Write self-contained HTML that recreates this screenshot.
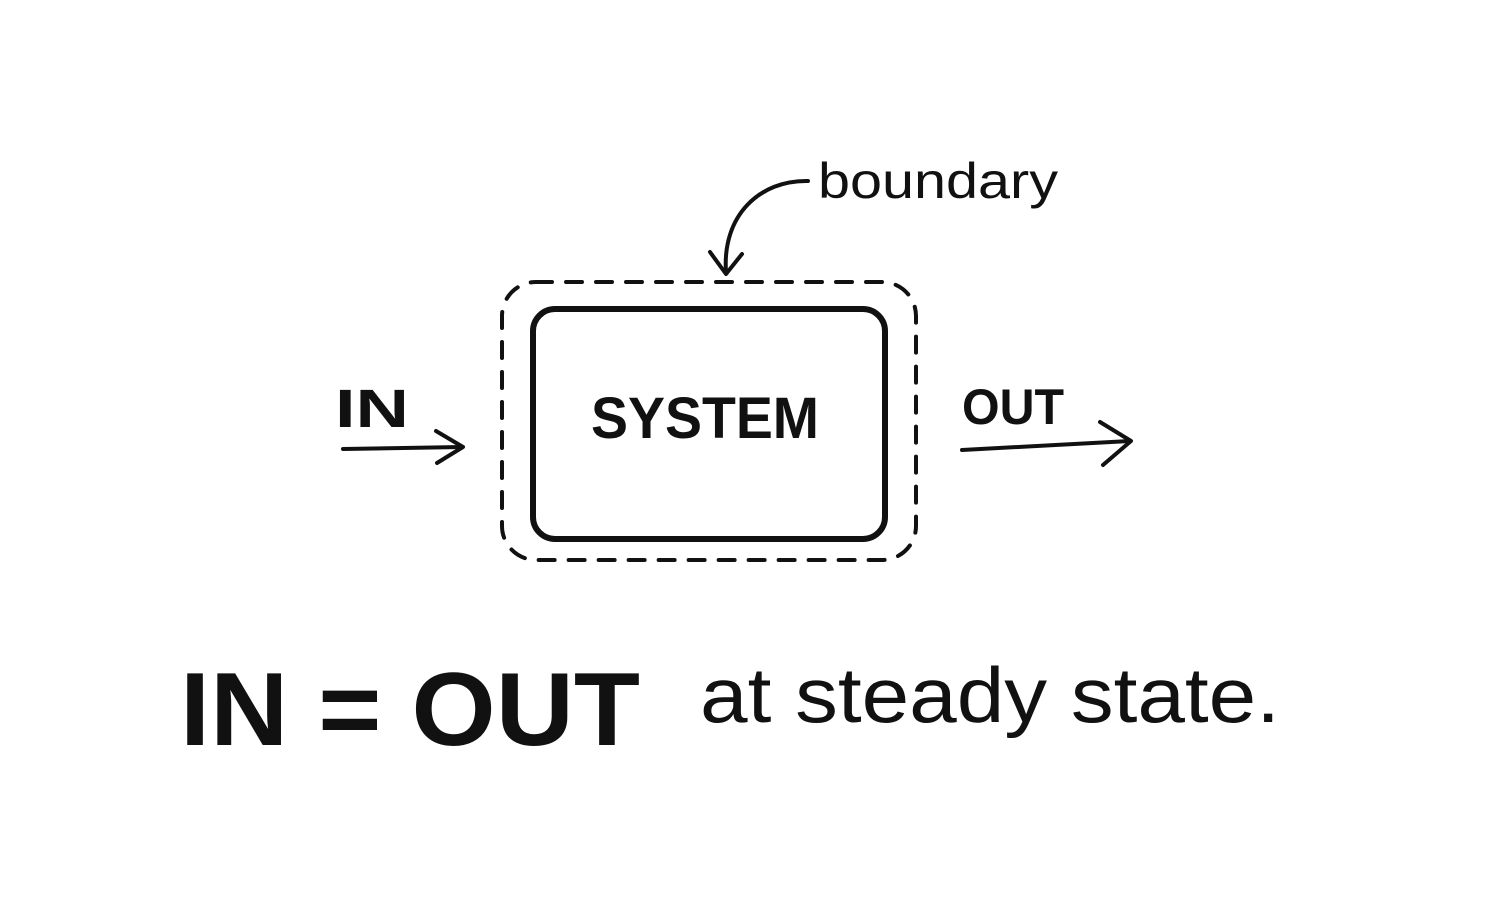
<!DOCTYPE html>
<html><head><meta charset="utf-8"><style>html,body{margin:0;padding:0;background:#fff;}svg{display:block}</style></head>
<body>
<svg width="1500" height="900" viewBox="0 0 1500 900" xmlns="http://www.w3.org/2000/svg">
<rect width="1500" height="900" fill="#fff"/>
<g fill="none" stroke="#111" stroke-linecap="round" stroke-linejoin="round">
<rect x="502" y="282" width="414" height="278" rx="34" stroke-width="4" stroke-dasharray="16 14"/>
<rect x="533" y="309" width="352" height="230" rx="22" stroke-width="6"/>
<path d="M343 449 L462 447" stroke-width="4"/>
<path d="M436 431 L463 447 L437 463" stroke-width="4"/>
<path d="M962 450 L1130 441" stroke-width="4"/>
<path d="M1100 422 L1131 441 L1103 465" stroke-width="4"/>
<path d="M808 181 C760 180 722 215 726 272" stroke-width="4"/>
<path d="M710 252 L726 274 L742 254" stroke-width="4"/>
</g>
<g font-family="Liberation Sans, sans-serif" fill="#111">
<text x="705" y="438" font-size="58" font-weight="bold" text-anchor="middle" textLength="228" lengthAdjust="spacingAndGlyphs">SYSTEM</text>
<text x="335" y="427" font-size="54" font-weight="bold" textLength="74" lengthAdjust="spacingAndGlyphs">IN</text>
<text x="962" y="424" font-size="50" font-weight="bold" textLength="102" lengthAdjust="spacingAndGlyphs">OUT</text>
<text x="818" y="198" font-size="50" textLength="240" lengthAdjust="spacingAndGlyphs">boundary</text>
<text x="180" y="745" font-size="104" font-weight="bold" textLength="460" lengthAdjust="spacingAndGlyphs">IN = OUT</text>
<text x="700" y="722" font-size="78" textLength="580" lengthAdjust="spacingAndGlyphs">at steady state.</text>
</g>
</svg>
</body></html>
